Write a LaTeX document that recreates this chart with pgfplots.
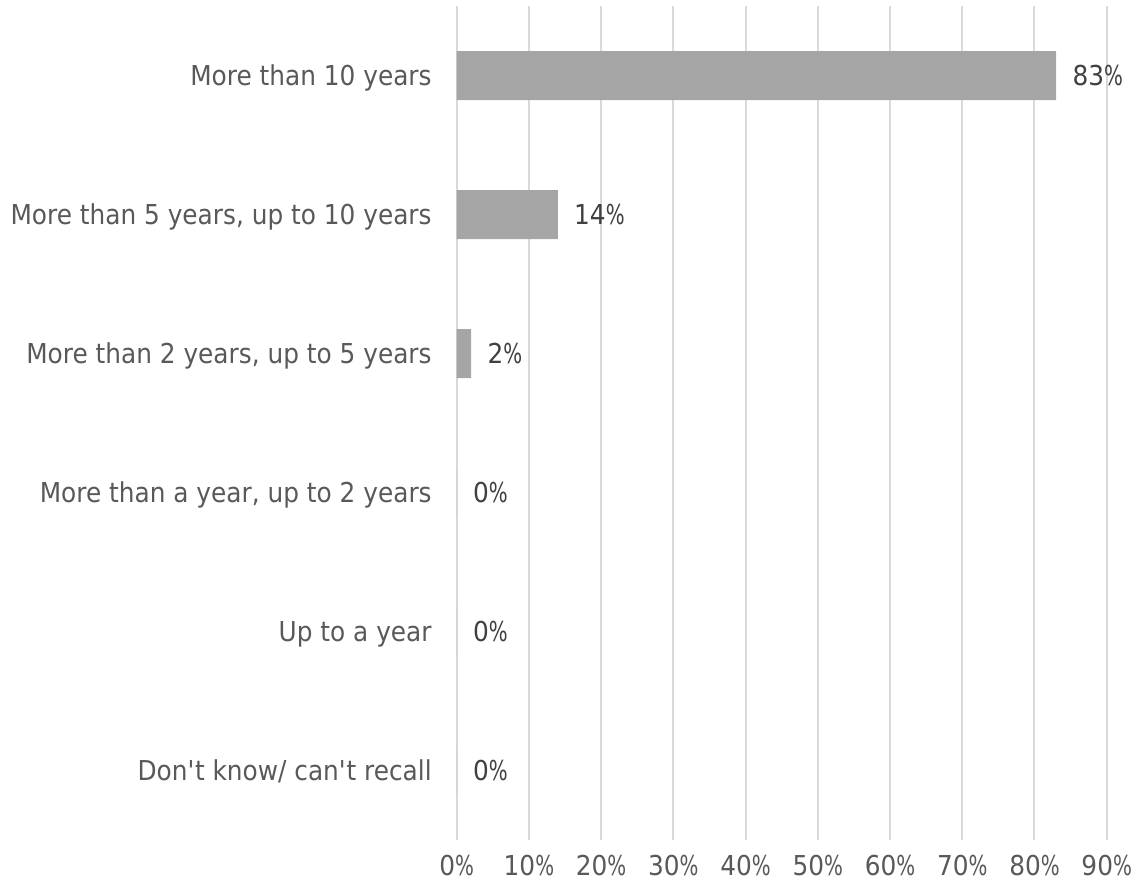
\documentclass[border=0pt]{standalone}
\usepackage{fontspec}
\setmainfont[FakeStretch=0.905]{DejaVu Sans}
\usepackage{graphicx}
\usepackage{pgfplots}
\pgfplotsset{compat=1.18}
\definecolor{txt}{HTML}{595959}
\definecolor{val}{HTML}{404040}
\definecolor{barc}{HTML}{A5A5A5}
\definecolor{grd}{HTML}{D9D9D9}
\newcommand\pct{\scalebox{0.8}[1]{\%}}
\begin{document}
\fontsize{13.7pt}{16pt}\selectfont
\begin{tikzpicture}
\begin{axis}[
  at={(0,0)}, anchor=south west,
  scale only axis, width=325pt, height=417pt,
  /pgf/number format/assume math mode=true,
  xbar, bar width=24.5pt,
  xmin=0, xmax=90, ymin=-0.5, ymax=5.5,
  xtick={0,10,...,90},
  xticklabel={\pgfmathprintnumber{\tick}\pct},
  ytick={0,...,5},
  yticklabels={{Don\textquotesingle t know/ can\textquotesingle t recall},{Up to a year},{More than a year, up to 2 years},{More than 2 years, up to 5 years},{More than 5 years, up to 10 years},{More than 10 years}},
  xmajorgrids, grid style={grd, line width=1pt},
  axis line style={draw=none}, major tick length=0pt,
  tick label style={font=\fontsize{13.7pt}{16pt}\selectfont, text=txt, inner sep=0pt},
  xticklabel style={anchor=base, yshift=-17.5pt},
  yticklabel style={anchor=base east, xshift=-12.35pt, yshift=-5pt},
  nodes near coords={\pgfmathprintnumber{\pgfplotspointmeta}\pct},
  point meta=x,
  every node near coord/.append style={anchor=base west, inner sep=0pt, xshift=8pt, yshift=-5pt, text=val, font=\fontsize{13.7pt}{16pt}\selectfont},
]
\addplot[fill=barc, draw=none] coordinates {(0,0) (0,1) (0,2) (2,3) (14,4) (83,5)};
\end{axis}
\pgfresetboundingbox
\path[use as bounding box] (-228.35pt,-25pt) rectangle (338.15pt,420pt);
\end{tikzpicture}
\end{document}
